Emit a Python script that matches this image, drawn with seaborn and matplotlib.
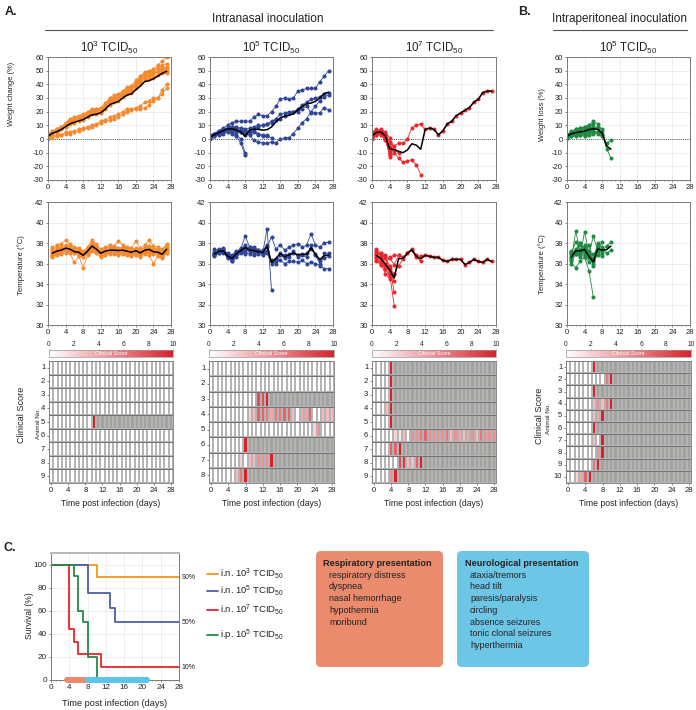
import numpy as np
import pandas as pd
import matplotlib
matplotlib.use("Agg")
import matplotlib.pyplot as plt
import seaborn as sns
from matplotlib.colors import LinearSegmentedColormap, ListedColormap
from matplotlib.lines import Line2D
from matplotlib.patches import FancyBboxPatch
from matplotlib.ticker import MultipleLocator

sns.set_theme(style="white")
plt.rcParams["font.family"] = ["Liberation Sans", "DejaVu Sans"]
plt.rcParams["mathtext.fontset"] = "custom"
plt.rcParams["mathtext.rm"] = "Liberation Sans"
plt.rcParams["mathtext.it"] = "Liberation Sans:italic"
plt.rcParams["mathtext.bf"] = "Liberation Sans:bold"
plt.rcParams["axes.unicode_minus"] = False

# ---------------- DATA ----------------
group_titles = ["10$^{3}$ TCID$_{50}$", "10$^{5}$ TCID$_{50}$", "10$^{7}$ TCID$_{50}$", "10$^{5}$ TCID$_{50}$"]
weight_start_day = 0
temp_start_day = 1

# weight change (%) per animal, day 0 onwards
weight_in3 = [
    [3, 5, 7, 8, 11, 14, 15, 16, 17, 19, 21, 22, 22, 25, 29, 31, 32, 34, 37, 38, 41, 45, 48, 49, 50, 52, 54, 55],
    [2, 4, 6, 9, 10, 12, 14, 15, 16, 18, 19, 20, 21, 24, 27, 28, 30, 33, 34, 35, 39, 42, 46, 47, 48, 50, 51, 52],
    [4, 6, 7, 8, 12, 15, 16, 17, 18, 20, 22, 22, 23, 26, 30, 32, 33, 35, 38, 39, 43, 46, 49, 50, 51, 54, 57, 60],
    [1, 4, 5, 7, 9, 11, 12, 13, 14, 16, 18, 18, 19, 22, 25, 27, 28, 31, 33, 34, 37, 40, 44, 44, 45, 47, 48, 48],
    [3, 5, 6, 8, 10, 13, 13, 15, 16, 17, 20, 20, 21, 23, 28, 29, 30, 32, 35, 36, 40, 43, 47, 46, 48, 49, 50, 51],
    [2, 6, 5, 7, 9, 13, 14, 14, 15, 18, 19, 19, 20, 24, 27, 28, 29, 33, 34, 36, 39, 42, 46, 46, 47, 50, 51, 53],
    [2, 5, 7, 9, 11, 13, 15, 16, 17, 19, 21, 21, 22, 24, 29, 30, 31, 34, 36, 37, 41, 44, 48, 49, 50, 52, 53, 50],
    [0, 1, 2, 3, 4, 4, 5, 6, 7, 8, 9, 10, 12, 13, 14, 15, 16, 18, 20, 21, 22, 22, 23, 25, 28, 30, 33, 37],
    [1, 2, 3, 3, 5, 5, 6, 7, 8, 9, 10, 11, 13, 14, 16, 17, 18, 20, 22, 22, 23, 24, 27, 28, 30, 30, 36, 40],
]
weight_in5 = [
    [2, 4, 6, 8, 10, 12, 13, 13, 13, 13, 16, 18, 17, 17, 20, 24, 29, 30, 29, 30, 35, 36, 37, 37, 37, 42, 46, 50],
    [1, 3, 4, 6, 7, 6, 5, 5, 4, 3, -1, -2, -3, -3, -2, -3, 0, 1, 1, 4, 8, 12, 15, 20, 24, 28, 31, 32],
    [2, 3, 5, 6, 8, 9, 8, 7, 6, 6, 5, 3, 2, 3],
    [3, 4, 5, 6, 8, 9, 9, 8, 7, 8, 9, 10, 10, 11, 13, 14, 15, 17, 19, 20, 22, 25, 27, 29, 30, 31, 33, 34],
    [0, 2, 4, 6, 7, 8, 7, 6, 5, 5, 8, 9, 10, 11, 12, 15, 18, 19, 20, 20, 20, 22, 24, 19, 19, 19, 23, 21],
    [1, 2, 3, 4, 5, 4, 3, 0, -10],
    [2, 4, 6, 7, 8, 7, 6, 5, 3, 4, 6, 4, 3, 2, 1],
    [2, 3, 4, 5, 6, 5, 2, -3, -12],
]
weight_in7 = [
    [4, 6, 5, 2, -10],
    [1, 5, 6, 4, -12],
    [0, 3, 4, 1, -13],
    [5, 7, 6, 3, -9],
    [2, 4, 3, -1, -11],
    [3, 5, 6, 4, -2, -5, -3, -3, 0, 8, 10, 11, 7, 8, 7, 3, 6, 11, 13, 17, 19, 21, 23, 27, 29, 34, 35, 35],
    [1, 3, 4, 0, -6, -8, -10],
    [2, 4, 5, 3, -3, -10, -14, -17, -16, -15, -19, -26],
    [3, 6, 7, 5, 1, -8],
]
weight_ip5 = [
    [2, 3, 4, 5, 3, 4, 6],
    [1, 4, 5, 4, 6, 7, 6, 5, 4, -7, -14],
    [3, 5, 6, 7, 8, 9, 11],
    [2, 3, 4, 3, 5, 6, 5, 4, 2, -3, -1],
    [1, 2, 3, 4, 5, 7, 8, 9, 7],
    [2, 4, 3, 5, 4, 5, 5],
    [3, 5, 7, 8, 9, 10, 13, 11, 6],
    [1, 2, 2, 3, 2, 3, 4, 5, 3],
    [2, 4, 5, 6, 7, 8, 9, 8],
    [3, 6, 7, 8, 9, 10],
]

# temperature (deg C) per animal, day 1 onwards
temp_in3 = [
    [37.6, 37.8, 37.9, 38.3, 37.9, 37.6, 37.5, 37.2, 37.6, 38.3, 37.9, 37.4, 37.6, 37.8, 37.7, 38.2, 37.8, 37.6, 37.5, 38.2, 37.5, 37.8, 38.3, 37.7, 37.6, 37.4, 37.9],
    [36.6, 36.8, 36.9, 37.0, 37.0, 36.1, 36.7, 35.6, 36.8, 37.2, 37.0, 36.6, 36.8, 36.9, 36.9, 36.8, 36.9, 36.8, 36.7, 36.8, 36.6, 36.9, 36.8, 36.0, 36.7, 36.5, 37.0],
    [37.2, 37.4, 37.5, 37.7, 37.6, 37.4, 37.3, 37.0, 37.3, 37.9, 37.6, 37.1, 37.3, 37.5, 37.5, 37.4, 37.5, 37.4, 37.3, 37.4, 37.2, 37.5, 37.6, 37.4, 37.3, 37.1, 37.6],
    [36.8, 37.0, 37.1, 37.2, 37.1, 37.0, 36.9, 36.6, 37.0, 37.6, 37.2, 36.8, 37.0, 37.1, 37.1, 37.0, 37.1, 37.0, 36.9, 37.0, 36.8, 37.1, 37.0, 36.9, 36.9, 36.7, 37.2],
    [37.4, 37.6, 37.6, 37.8, 37.7, 37.5, 37.4, 37.1, 37.5, 38.0, 37.7, 37.3, 37.5, 37.6, 37.6, 37.5, 37.6, 37.5, 37.4, 37.5, 37.3, 37.6, 37.7, 37.5, 37.4, 37.2, 37.8],
    [36.7, 36.9, 37.0, 37.3, 37.2, 37.0, 36.8, 36.9, 37.1, 37.5, 37.1, 36.9, 37.0, 37.0, 37.2, 36.9, 37.0, 37.1, 36.8, 37.1, 36.9, 37.0, 37.1, 37.0, 36.8, 36.6, 37.3],
    [37.1, 37.3, 37.2, 37.5, 37.3, 37.3, 37.0, 36.8, 37.2, 37.8, 37.5, 36.8, 37.2, 37.3, 37.3, 37.2, 37.4, 37.2, 37.1, 37.2, 37.0, 37.3, 37.4, 37.2, 37.1, 36.9, 37.5],
    [36.9, 37.1, 37.3, 37.4, 37.4, 37.1, 37.1, 36.9, 37.4, 37.5, 37.3, 37.0, 37.1, 37.3, 37.2, 37.1, 37.2, 37.1, 37.0, 37.0, 37.1, 37.2, 37.2, 37.3, 37.0, 36.8, 37.3],
    [36.7, 37.0, 37.2, 37.3, 37.4, 37.4, 37.2, 37.1, 36.9, 37.6, 37.3, 37.1, 37.3, 37.2, 37.2, 37.3, 37.2, 37.1, 37.2, 37.1, 36.9, 37.3, 37.3, 37.3, 37.1, 36.9, 37.0],
]
temp_in5 = [
    [37.4, 37.3, 37.2, 37.0, 36.8, 37.2, 37.4, 38.7, 37.6, 37.5, 37.3, 37.2, 37.6, 38.6, 37.4, 37.8, 37.3, 37.6, 37.8, 37.9, 37.6, 37.8, 38.9, 37.8, 37.6, 38.0, 38.1],
    [36.7, 37.0, 37.1, 36.6, 36.2, 36.6, 37.0, 37.1, 36.9, 36.8, 36.9, 36.8, 37.0, 36.0, 36.2, 36.3, 36.0, 36.2, 36.2, 36.1, 36.3, 36.0, 36.1, 36.0, 35.8, 35.5, 35.5],
    [36.9, 37.2, 37.3, 36.9, 36.5, 37.0, 37.3, 37.5, 37.6, 37.2, 37.1, 37.3, 37.8],
    [37.0, 37.1, 37.2, 36.8, 36.6, 36.9, 37.1, 37.3, 37.2, 37.0, 37.1, 37.0, 37.1, 36.3, 36.4, 37.0, 36.8, 36.9, 37.0, 36.8, 36.9, 37.0, 37.4, 36.9, 36.2, 36.5, 36.7],
    [36.8, 37.0, 37.1, 36.5, 36.4, 36.8, 37.2, 37.6, 37.3, 37.4, 37.2, 37.0, 37.2, 36.2, 36.0, 36.8, 36.5, 36.6, 37.2, 36.6, 36.8, 36.6, 37.8, 36.8, 36.0, 37.0, 37.0],
    [36.9, 37.3, 37.4, 36.6, 36.2, 37.0, 37.5, 36.9],
    [36.8, 37.2, 37.0, 36.7, 36.7, 37.0, 37.4, 37.8, 37.3, 37.6, 37.3, 37.0, 39.4, 33.4],
    [37.1, 37.4, 37.5, 36.8, 36.5, 37.1, 37.2, 37.5],
]
temp_in7 = [
    [37.4, 37.0, 36.5, 35.8, 33.2],
    [37.1, 36.8, 36.0, 35.0, 31.9],
    [36.6, 36.2, 35.5, 34.7],
    [36.3, 36.0, 35.0, 34.5],
    [36.9, 36.5, 35.8, 35.2, 34.3],
    [36.2, 35.9, 35.5, 34.8, 35.0, 35.8, 36.4, 37.0, 37.4, 36.8, 36.7, 36.8, 36.7, 36.6, 36.6, 36.3, 36.2, 36.4, 36.4, 36.4, 35.9, 36.1, 36.4, 36.2, 36.1, 36.4, 36.2],
    [37.2, 36.8, 36.8, 36.5, 35.9, 36.8],
    [36.5, 36.2, 35.9, 36.6, 36.8, 36.8, 36.6, 37.0, 37.3, 36.6, 36.2],
    [36.8, 37.0, 36.5, 35.5, 35.0],
]
temp_ip5 = [
    [36.2, 36.9, 37.3, 37.0, 36.5, 36.2],
    [36.9, 37.4, 38.0, 37.3, 36.8, 36.9, 37.5, 37.2, 37.7, 38.1],
    [36.5, 39.2, 37.0, 37.5, 36.6, 36.0],
    [36.7, 37.0, 36.8, 39.1, 37.0, 36.4, 38.0, 37.6, 37.0, 37.3],
    [37.0, 38.1, 37.3, 37.8, 36.9, 38.7, 37.2, 38.1],
    [36.0, 35.6, 36.2, 36.6, 35.3, 32.7],
    [37.2, 36.9, 38.0, 36.9, 37.8, 36.2, 37.8, 37.0],
    [36.5, 37.3, 37.8, 37.4, 37.2, 35.8, 37.2, 36.7],
    [37.1, 37.1, 37.3, 36.6, 36.1, 36.5, 36.8],
    [36.3, 37.0, 36.6, 37.6, 36.7],
]

# clinical scores per animal from day 0; days after the list ends = dead
heat_days = list(range(29))
alive_zero = [0, 0, 0, 0, 0, 0, 0, 0, 0, 0, 0, 0, 0, 0, 0, 0, 0, 0, 0, 0, 0, 0, 0, 0, 0, 0, 0, 0, 0]
score_in3 = [alive_zero, alive_zero, alive_zero, alive_zero,
             [0, 0, 0, 0, 0, 0, 0, 0, 0, 0, 10],
             alive_zero, alive_zero, alive_zero, alive_zero]
score_in5 = [
    alive_zero,
    alive_zero,
    [0, 0, 0, 0, 0, 0, 0, 0, 0, 0, 0, 8, 8, 10],
    [0, 0, 0, 0, 0, 0, 0, 0, 0, 2, 3, 7, 7, 6, 4, 6, 6, 7, 7, 3, 0, 4, 4, 7, 0, 0, 3, 3, 3],
    [0, 0, 0, 0, 0, 0, 0, 0, 0, 0, 0, 0, 0, 0, 0, 0, 0, 0, 0, 0, 0, 0, 0, 0, 2, 5, 0, 0, 0],
    [0, 0, 0, 0, 0, 0, 0, 0, 10],
    [0, 0, 0, 0, 0, 0, 0, 2, 0, 3, 3, 5, 5, 5, 10],
    [0, 0, 0, 0, 0, 0, 3, 6, 10],
]
score_in7 = [
    [0, 0, 0, 0, 10],
    [0, 0, 0, 0, 10],
    [0, 0, 0, 0, 10],
    [0, 0, 0, 3, 10],
    [0, 0, 0, 0, 10],
    [0, 0, 0, 0, 0, 2, 1, 3, 0, 5, 5, 6, 7, 5, 5, 5, 5, 6, 3, 5, 4, 3, 4, 5, 3, 6, 5, 5, 5],
    [0, 0, 0, 0, 7, 7, 10],
    [0, 0, 0, 0, 0, 0, 8, 9, 3, 3, 7, 10],
    [0, 0, 0, 0, 5, 10],
]
score_ip5 = [
    [0, 0, 0, 0, 0, 0, 10],
    [0, 0, 0, 0, 0, 0, 0, 0, 0, 6, 10],
    [0, 0, 0, 0, 0, 0, 10],
    [0, 0, 0, 0, 0, 0, 3, 5, 3, 6, 10],
    [0, 0, 0, 0, 0, 0, 3, 4, 10],
    [0, 0, 0, 0, 0, 0, 10],
    [0, 0, 0, 0, 0, 0, 3, 0, 10],
    [0, 0, 0, 0, 0, 0, 0, 5, 10],
    [0, 0, 0, 0, 0, 0, 6, 10],
    [0, 0, 2, 4, 7, 10],
]
cbar_ticks = [0, 2, 4, 6, 8, 10]

# survival (Kaplan-Meier steps)
surv_labels = ["i.n. 10$^{3}$ TCID$_{50}$", "i.n. 10$^{5}$ TCID$_{50}$",
               "i.n. 10$^{7}$ TCID$_{50}$", "i.p. 10$^{5}$ TCID$_{50}$"]
surv_days = [[0, 10, 28], [0, 8, 13, 14, 28], [0, 4, 5, 6, 11, 28], [0, 5, 6, 7, 8, 10]]
surv_vals = [[100, 88.9, 88.9], [100, 75, 62.5, 50, 50],
             [100, 44.4, 33.3, 22.2, 11.1, 11.1], [100, 90, 60, 50, 20, 0]]
surv_end_labels = ["90%", "50%", "10%", None]
phase_spans = [(3.5, 8), (8, 21)]

resp_title = "Respiratory presentation"
resp_items = ["respiratory distress", "dyspnea", "nasal hemorrhage", "hypothermia", "moribund"]
neuro_title = "Neurological presentation"
neuro_items = ["ataxia/tremors", "head tilt", "paresis/paralysis", "circling",
               "absence seizures", "tonic clonal seizures", "hyperthermia"]

# ---------------- STYLE ----------------
point_colors = ["#f48a2f", "#2f4596", "#e8282d", "#1f8a43"]
surv_colors = ["#f7941d", "#4b5ea8", "#ec2227", "#23894a"]
phase_colors = ["#e98a6d", "#5ec3ea"]
score_cmap = LinearSegmentedColormap.from_list("score", ["#ffffff", "#d7222a"])
dead_cmap = ListedColormap(["#a3a29e"])
TXT = "#222222"

W, H = 696, 710
fig = plt.figure(figsize=(W / 100, H / 100), dpi=100)


def rect(x0, y0, x1, y1):
    return [x0 / W, 1 - y1 / H, (x1 - x0) / W, (y1 - y0) / H]


def ftext(x, y, s, **kw):
    kw.setdefault("color", TXT)
    fig.text(x / W, 1 - y / H, s, **kw)


def long_df(series, start):
    rows = []
    for i, vals in enumerate(series):
        for j, v in enumerate(vals):
            rows.append((i + 1, start + j, v))
    return pd.DataFrame(rows, columns=["animal", "day", "value"])


def draw_group(ax, series, start, color):
    df = long_df(series, start)
    sns.lineplot(data=df, x="day", y="value", units="animal", estimator=None,
                 color=color, lw=0.6, marker="o", markersize=2.9,
                 markeredgewidth=0, ax=ax, legend=False)
    sns.lineplot(data=df, x="day", y="value", estimator="mean", errorbar=None,
                 color="black", lw=1.1, ax=ax, legend=False)


def style_xy(ax, ylim, ystep, fs=5.5):
    ax.set_xlim(0, 28)
    ax.set_xticks(range(0, 29, 4))
    ax.set_ylim(*ylim)
    ax.yaxis.set_major_locator(MultipleLocator(ystep))
    ax.xaxis.set_minor_locator(MultipleLocator(1))
    ax.grid(True, which="major", color="#e8e8e8", lw=0.5)
    ax.set_axisbelow(True)
    ax.tick_params(which="major", labelsize=fs, length=1.5, width=0.5, pad=1.5,
                   colors="#555", labelcolor=TXT, bottom=True, left=True)
    ax.tick_params(which="minor", length=1, width=0.4, colors="#555", bottom=True)
    for s in ax.spines.values():
        s.set_color("#7a7a7a")
        s.set_linewidth(0.7)
    ax.set_xlabel("")
    ax.set_ylabel("")


def draw_heat(ax, cax, scores):
    n = len(scores)
    mat = np.full((n, len(heat_days)), np.nan)
    for i, s in enumerate(scores):
        mat[i, :len(s)] = s
    df = pd.DataFrame(mat, index=[str(i + 1) for i in range(n)], columns=heat_days)
    dead = df.isna()
    sns.heatmap(dead.astype(float), mask=~dead, cmap=dead_cmap, vmin=0, vmax=1,
                cbar=False, linewidths=0.3, linecolor="#6e6e6c", ax=ax)
    sns.heatmap(df, mask=dead, cmap=score_cmap, vmin=0, vmax=10,
                linewidths=0.3, linecolor="#b4b4b4", ax=ax,
                cbar=True, cbar_ax=cax, cbar_kws={"orientation": "horizontal"})
    cb = ax.collections[-1].colorbar
    ax.hlines(range(1, n), 0, len(heat_days), color="#666666", lw=0.6)
    ax.set_xticks([d + 0.5 for d in range(0, 29, 4)])
    ax.set_xticklabels([str(d) for d in range(0, 29, 4)], rotation=0)
    ax.set_yticks([i + 0.5 for i in range(n)])
    ax.set_yticklabels([str(i + 1) for i in range(n)], rotation=0)
    ax.tick_params(labelsize=5.5, length=1.5, width=0.5, pad=1.2, colors="#555",
                   labelcolor=TXT, bottom=True, left=True)
    for s in ax.spines.values():
        s.set_visible(True)
        s.set_color("#7a7a7a")
        s.set_linewidth(0.6)
    ax.set_xlabel("")
    ax.set_ylabel("")
    if cb is not None:
        cb.set_ticks(cbar_ticks)
        cb.outline.set_edgecolor("#999999")
        cb.outline.set_linewidth(0.5)
    cax.xaxis.set_ticks_position("top")
    cax.tick_params(labelsize=4.8, length=1, width=0.4, pad=0.5,
                    top=True, labeltop=True, bottom=False, labelbottom=False,
                    colors="#555", labelcolor=TXT)
    cax.text(0.5, 0.45, "Clinical Score", color="white", fontsize=3.8,
             ha="center", va="center", transform=cax.transAxes)


weights = [weight_in3, weight_in5, weight_in7, weight_ip5]
temps = [temp_in3, temp_in5, temp_in7, temp_ip5]
scores = [score_in3, score_in5, score_in7, score_ip5]

cols = [(48, 171), (210, 333), (372, 496), (567, 690)]
heat_cols = [(49, 173), (209, 334), (372, 496), (566, 691)]

for k in range(4):
    x0, x1 = cols[k]
    axw = fig.add_axes(rect(x0, 57, x1, 180))
    draw_group(axw, weights[k], weight_start_day, point_colors[k])
    axw.axhline(0, ls=(0, (1, 1.2)), color="#555", lw=0.7, zorder=1)
    style_xy(axw, (-30, 60), 10)

    axt = fig.add_axes(rect(x0, 202, x1, 325))
    draw_group(axt, temps[k], temp_start_day, point_colors[k])
    style_xy(axt, (30, 42), 2)

    hx0, hx1 = heat_cols[k]
    cax = fig.add_axes(rect(hx0, 350, hx1, 357))
    axh = fig.add_axes(rect(hx0, 361, hx1, 483))
    draw_heat(axh, cax, scores[k])

    ftext((x0 + x1) / 2, 47, group_titles[k], fontsize=8.3, ha="center", va="center")
    ftext((hx0 + hx1) / 2, 504, "Time post infection (days)", fontsize=6.2,
          ha="center", va="center")

# side labels
ftext(12, 94, "Weight change (%)", fontsize=5.4, rotation=90, ha="center", va="center")
ftext(542, 115, "Weight loss (%)", fontsize=5.4, rotation=90, ha="center", va="center")
ftext(21, 265, "Temperature (°C)", fontsize=5.6, rotation=90, ha="center", va="center")
ftext(542, 264, "Temperature (°C)", fontsize=5.6, rotation=90, ha="center", va="center")
ftext(21, 415, "Clinical Score", fontsize=6.6, rotation=90, ha="center", va="center")
ftext(540, 416, "Clinical Score", fontsize=6.6, rotation=90, ha="center", va="center")
ftext(38, 423, "Animal No.", fontsize=4.6, rotation=90, ha="center", va="center")
ftext(548, 418, "Animal No.", fontsize=4.6, rotation=90, ha="center", va="center")

# headers
ftext(5, 12, "A.", fontsize=9, fontweight="bold", va="center")
ftext(518, 12, "B.", fontsize=9, fontweight="bold", va="center")
ftext(3, 548, "C.", fontsize=9, fontweight="bold", va="center")
ftext(268, 19, "Intranasal inoculation", fontsize=8.5, ha="center", va="center")
ftext(620, 19, "Intraperitoneal inoculation", fontsize=8.5, ha="center", va="center")
fig.add_artist(Line2D([45 / W, 493 / W], [1 - 30 / H] * 2, color="#555", lw=0.8))
fig.add_artist(Line2D([553 / W, 687 / W], [1 - 30 / H] * 2, color="#555", lw=0.8))

# ---------------- SURVIVAL ----------------
axs = fig.add_axes(rect(51, 553, 179, 680))
rows = []
for lab, dd, vv in zip(surv_labels, surv_days, surv_vals):
    for d, v in zip(dd, vv):
        rows.append((lab, d, v))
sdf = pd.DataFrame(rows, columns=["group", "day", "survival"])
sns.lineplot(data=sdf, x="day", y="survival", hue="group", hue_order=surv_labels,
             palette=surv_colors, estimator=None, drawstyle="steps-post",
             lw=1.3, ax=axs, legend=False)
for (a, b), c in zip(phase_spans, phase_colors):
    axs.plot([a, b], [0, 0], color=c, lw=4.3, solid_capstyle="round",
             clip_on=False, zorder=5)
style_xy(axs, (0, 110), 20, fs=5.9)
axs.spines["top"].set_color("#b8b8b8")
axs.spines["top"].set_linewidth(1.4)
for lab, vv in zip(surv_end_labels, surv_vals):
    if lab:
        axs.text(28.6, vv[-1], lab, fontsize=5, va="center", ha="left",
                 color=TXT, clip_on=False)
ftext(30, 616, "Survival (%)", fontsize=6.2, rotation=90, ha="center", va="center")
ftext(115, 703, "Time post infection (days)", fontsize=6.6, ha="center", va="center")

legend_y = [574, 591, 610, 635]
for lab, c, y in zip(surv_labels, surv_colors, legend_y):
    fig.add_artist(Line2D([207 / W, 218 / W], [1 - y / H] * 2, color=c, lw=1.3))
    ftext(220, y, lab, fontsize=6.8, va="center", ha="left")

# ---------------- BOXES ----------------
def box(x0, y0, x1, y1, color):
    p = FancyBboxPatch((x0 / W, 1 - y1 / H), (x1 - x0) / W, (y1 - y0) / H,
                       boxstyle="round,pad=0,rounding_size=0.007",
                       transform=fig.transFigure, facecolor=color,
                       edgecolor="none", zorder=0)
    fig.add_artist(p)


box(316, 551, 443, 667, "#ea8b6e")
box(457, 551, 589, 667, "#6ec6e7")
ftext(323, 563, resp_title, fontsize=6.6, fontweight="bold", va="center")
for i, s in enumerate(resp_items):
    ftext(329, 575 + 11.8 * i, s, fontsize=6.5, va="center")
ftext(465, 563, neuro_title, fontsize=6.6, fontweight="bold", va="center")
for i, s in enumerate(neuro_items):
    ftext(470, 575 + 11.8 * i, s, fontsize=6.5, va="center")

fig.savefig("out.png", dpi=100)
